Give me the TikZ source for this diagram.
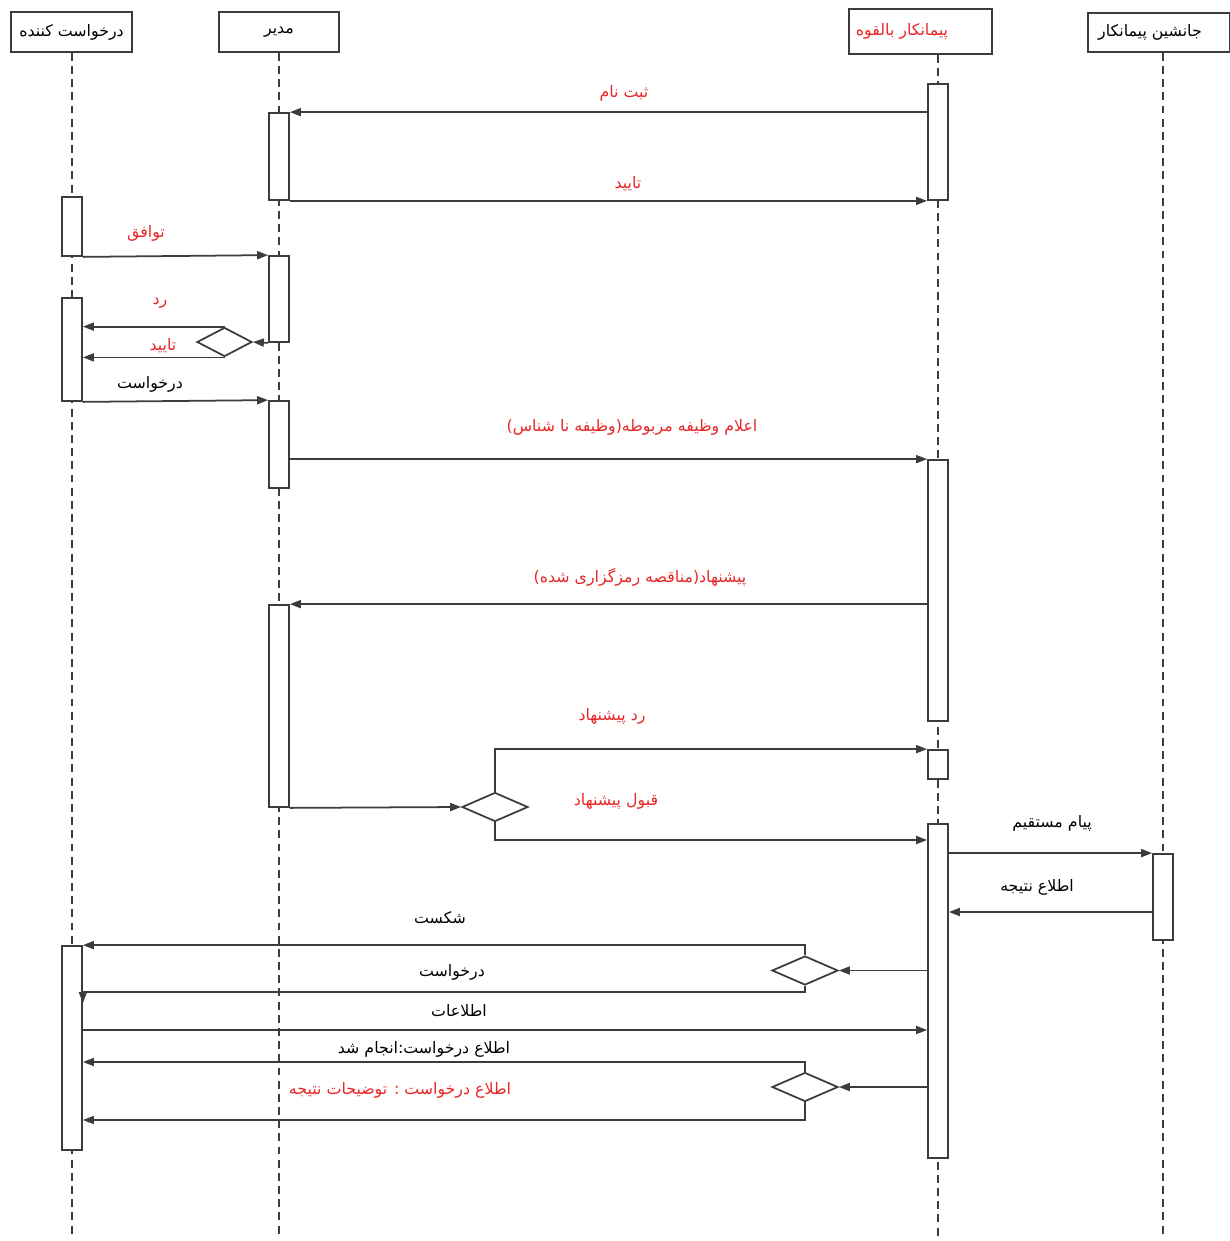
\documentclass[tikz,border=0pt]{standalone}
\usepackage{fontspec}
\newfontfamily\fa[Script=Arabic]{DejaVu Sans}
\TeXXeTstate=1
\usetikzlibrary{arrows.meta, shapes.geometric, positioning}
\definecolor{MsgRed}{RGB}{232,38,38}
\definecolor{LineGray}{RGB}{60,60,60}
\newcommand{\fatxt}[1]{\beginR #1\endR}
\tikzset{
  lifehead/.style={draw=LineGray, line width=1pt, minimum height=0.8cm, inner sep=2pt, font=\fa\fontsize{9}{11}\selectfont},
  lifeline/.style={draw=LineGray, line width=0.8pt, dash pattern=on 4.5pt off 3pt},
  actbar/.style={draw=LineGray, line width=1pt, fill=white, minimum width=0.4cm, minimum height=#1*0.02cm, inner sep=0pt},
  msg/.style={draw=LineGray, line width=1pt, -{Triangle[length=2.2mm, width=1.6mm]}},
  choice/.style={diamond, draw=LineGray, line width=1pt, fill=white, minimum width=#1*0.02cm, minimum height=0.58cm, inner sep=0pt},
  lbl/.style={font=\fa\fontsize{9}{11}\selectfont},
  redlbl/.style={lbl, text=MsgRed}
}
\begin{document}
\begin{tikzpicture}[x=0.02cm, y=-0.02cm]
  \useasboundingbox (0,0) rectangle (1230,1241);
  % lifeline heads
  \node[lifehead, minimum width=2.42cm] (req) at (71.5,32) {\fatxt{درخواست کننده}};
  \node[lifehead, minimum width=2.4cm] (mgr) at (279,32) {\fatxt{مدیر}};
  \node[lifehead, minimum width=2.86cm, minimum height=0.9cm, text=MsgRed] (con) at (920.5,31.5) {\fatxt{پیمانکار بالقوه}\rule{0.74cm}{0pt}};
  \node[lifehead, minimum width=2.84cm, minimum height=0.78cm] (suc) at (1159,32.5) {\fatxt{جانشین پیمانکار}\rule{0.36cm}{0pt}};
  % lifelines
  \coordinate (bottom) at (0,1238);
  \coordinate (reqx) at (72,0);
  \coordinate (conx) at (938,0);
  \coordinate (sucx) at (1163,0);
  \draw[lifeline] (reqx |- req.south) -- (reqx |- bottom);
  \draw[lifeline] (mgr.south) -- (mgr.south |- bottom);
  \draw[lifeline] (conx |- con.south) -- (conx |- bottom);
  \draw[lifeline] (sucx |- suc.south) -- (sucx |- bottom);
  % activation bars
  \node[actbar=116] (c1) at (938,142) {};
  \node[actbar=87] (m1) at (279,156.5) {};
  \node[actbar=59] (r1) at (72,226.5) {};
  \node[actbar=86] (m2) at (279,299) {};
  \node[actbar=103] (r2) at (72,349.5) {};
  \node[actbar=87] (m3) at (279,444.5) {};
  \node[actbar=261] (c2) at (938,590.5) {};
  \node[actbar=202] (m4) at (279,706) {};
  \node[actbar=29] (c3) at (938,764.5) {};
  \node[actbar=334] (c4) at (938,991) {};
  \node[actbar=86] (s1) at (1163,897) {};
  \node[actbar=204] (r3) at (72,1048) {};
  % decisions
  \node[choice=55] (d1) at (224.5,342) {};
  \node[choice=66] (d2) at (495,807) {};
  \node[choice=66] (d3) at (805,970.5) {};
  \node[choice=66] (d4) at (805,1087) {};
  % message rows
  \coordinate (y840) at (0,840);
  \coordinate (y912) at (0,912);
  \coordinate (y992) at (0,992);
  \coordinate (y1030) at (0,1030);
  \coordinate (y1062) at (0,1062);
  \coordinate (y1120) at (0,1120);
  % messages
  \draw[msg] (c1.west |- m1.north) -- (m1.north east);
  \draw[msg] (m1.south east) -- (c1.south west);
  \draw[msg] (r1.south east) -- (m2.north west);
  \draw[msg] (m2.south west) -- (d1.east);
  \draw[msg] (d1.north) -- (r2.east |- d1.north);
  \draw[msg] (d1.south) -- (r2.east |- d1.south);
  \draw[msg] (r2.south east) -- (m3.north west);
  \draw[msg] (m3.east |- c2.north) -- (c2.north west);
  \draw[msg] (c2.west |- m4.north) -- (m4.north east);
  \draw[msg] (m4.south east) -- (d2.west);
  \draw[msg] (d2.north) |- (c3.north west);
  \draw[msg] (d2.south) |- (c4.west |- y840);
  \draw[msg] (c4.east |- s1.north) -- (s1.north west);
  \draw[msg] (s1.west |- y912) -- (c4.east |- y912);
  \draw[msg] (c4.west |- d3.east) -- (d3.east);
  \draw[msg] (d3.north) |- (r3.north east);
  \draw[msg] (d3.south) |- (r3.east |- y992) -- ++(0,11);
  \draw[msg] (r3.east |- y1030) -- (c4.west |- y1030);
  \draw[msg] (c4.west |- d4.east) -- (d4.east);
  \draw[msg] (d4.north) |- (r3.east |- y1062);
  \draw[msg] (d4.south) |- (r3.east |- y1120);
  % labels
  \node[redlbl] (l1) at (624,93) {\fatxt{ثبت نام}};
  \node[redlbl] (l2) at (628,184) {\fatxt{تایید}};
  \node[redlbl] (l3) at (146,233) {\fatxt{توافق}};
  \node[redlbl] (l4) at (160,303) {\fatxt{رد}};
  \node[redlbl] (l5) at (163,346) {\fatxt{تایید}};
  \node[lbl] (l6) at (150,384) {\fatxt{درخواست}};
  \node[redlbl] (l7) at (632,427) {\fatxt{اعلام وظیفه مربوطه(وظیفه نا شناس)}};
  \node[redlbl] (l8) at (640,577) {\fatxt{پیشنهاد(مناقصه رمزگزاری شده)}};
  \node[redlbl] (l9) at (612,716) {\fatxt{رد پیشنهاد}};
  \node[redlbl] (l10) at (616,801) {\fatxt{قبول پیشنهاد}};
  \node[lbl] (l11) at (1052,823) {\fatxt{پیام مستقیم}};
  \node[lbl] (l12) at (1037,887) {\fatxt{اطلاع نتیجه}};
  \node[lbl] (l13) at (440,918) {\fatxt{شکست}};
  \node[lbl] (l14) at (452,972) {\fatxt{درخواست}};
  \node[lbl] (l15) at (459,1011) {\fatxt{اطلاعات}};
  \node[lbl] (l16) at (424,1049) {\fatxt{اطلاع درخواست:انجام شد}};
  \node[redlbl] (l17) at (400,1090) {\fatxt{اطلاع درخواست : توضیحات نتیجه}};
\end{tikzpicture}
\end{document}
